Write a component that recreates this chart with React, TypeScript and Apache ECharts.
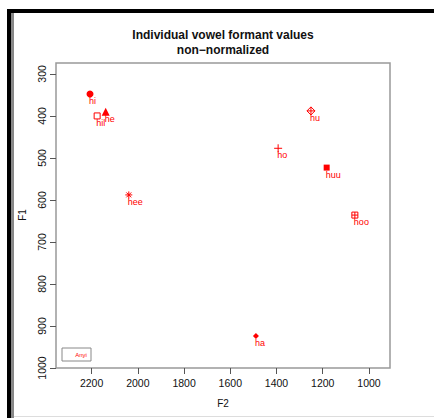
import React, { useEffect, useRef } from 'react';
import * as echarts from 'echarts';

const vowels = ['hi', 'hil', 'he', 'hee', 'hu', 'ho', 'huu', 'hoo', 'ha'];
const f2Values = [2207, 2176, 2139, 2039, 1251, 1393, 1183, 1061, 1489];
const f1Values = [348, 400, 390, 588, 388, 477, 523, 636, 924];
const xTicks = [1000, 1200, 1400, 1600, 1800, 2000, 2200];
const yTicks = [300, 400, 500, 600, 700, 800, 900, 1000];
const titleLines = ['Individual vowel formant values', 'non\u2212normalized'];
const xName = 'F2';
const yName = 'F1';
const legendLabel = 'Anyi';

const RED = '#ff0000';
const FONT = '"Liberation Sans", Arial, Helvetica, sans-serif';

// marker styles per vowel (R pch look-alikes)
const markerStyles: Record<string, { symbol: string; size: number; filled: boolean }> = {
  hi: { symbol: 'circle', size: 7, filled: true },
  hil: { symbol: 'rect', size: 6, filled: false },
  he: { symbol: 'triangle', size: 8, filled: true },
  hee: { symbol: 'path://M0,5L10,5M5,0L5,10M1.5,1.5L8.5,8.5M8.5,1.5L1.5,8.5', size: 7, filled: false },
  hu: { symbol: 'path://M5,0L10,5L5,10L0,5ZM0,5L10,5M5,0L5,10', size: 8, filled: false },
  ho: { symbol: 'path://M0,5L10,5M5,0L5,10', size: 8, filled: false },
  huu: { symbol: 'rect', size: 6, filled: true },
  hoo: { symbol: 'path://M0,0L10,0L10,10L0,10ZM0,5L10,5M5,0L5,10', size: 6, filled: false },
  ha: { symbol: 'diamond', size: 6, filled: true },
};

export default function App() {
  const ref = useRef<HTMLDivElement>(null);
  useEffect(() => {
    if (!ref.current) return;
    const chart = echarts.init(ref.current, undefined, { renderer: 'svg' });
    const data = vowels.map((v, i) => {
      const m = markerStyles[v];
      return {
        name: v,
        value: [f2Values[i], f1Values[i]],
        symbol: m.symbol,
        symbolSize: m.size,
        itemStyle: m.filled
          ? { color: RED, borderWidth: 0, opacity: 1 }
          : { color: 'rgba(0,0,0,0)', borderColor: RED, borderWidth: 1, opacity: 1 },
      };
    });
    const plain = (v: number) => String(v);
    chart.setOption({
      animation: false,
      backgroundColor: '#ffffff',
      grid: {
        left: 56,
        top: 63,
        right: 44,
        bottom: 50,
        show: true,
        borderColor: '#999999',
        borderWidth: 1.5,
        backgroundColor: 'transparent',
      },
      xAxis: {
        type: 'value',
        min: 909,
        max: 2354,
        inverse: true,
        axisLine: { show: false },
        splitLine: { show: false },
        axisTick: {
          show: true,
          inside: false,
          length: 6,
          lineStyle: { color: '#555' },
          customValues: xTicks,
        },
        axisLabel: {
          customValues: xTicks,
          formatter: plain,
          margin: 9,
          fontSize: 10.5,
          color: '#111',
          fontFamily: FONT,
        },
      },
      yAxis: {
        type: 'value',
        min: 274,
        max: 1000,
        inverse: true,
        axisLine: { show: false },
        splitLine: { show: false },
        axisTick: {
          show: true,
          inside: false,
          length: 6,
          lineStyle: { color: '#555' },
          customValues: yTicks,
        },
        axisLabel: {
          customValues: yTicks,
          formatter: plain,
          rotate: 90,
          margin: 9,
          fontSize: 10.5,
          color: '#111',
          fontFamily: FONT,
        },
      },
      series: [
        {
          type: 'scatter',
          data,
          label: {
            show: true,
            formatter: '{b}',
            position: 'inside',
            align: 'left',
            verticalAlign: 'middle',
            offset: [-1, 7],
            color: RED,
            fontSize: 9,
            fontFamily: FONT,
          },
          emphasis: { disabled: true },
        },
      ],
      graphic: [
        { type: 'rect', shape: { x: 7, y: 9, width: 427, height: 4 }, style: { fill: '#000' }, silent: true },
        { type: 'rect', shape: { x: 7, y: 9, width: 4, height: 409 }, style: { fill: '#000' }, silent: true },
        { type: 'rect', shape: { x: 11, y: 13, width: 3, height: 405 }, style: { fill: '#888' }, silent: true },
        { type: 'rect', shape: { x: 14, y: 416, width: 420, height: 1 }, style: { fill: '#dddddd' }, silent: true },
        {
          type: 'text',
          x: 223,
          y: 35,
          style: {
            text: titleLines[0],
            fill: '#111',
            font: `bold 12px ${FONT}`,
            textAlign: 'center',
            textVerticalAlign: 'middle',
          },
        },
        {
          type: 'text',
          x: 223,
          y: 50,
          style: {
            text: titleLines[1],
            fill: '#111',
            font: `bold 12px ${FONT}`,
            textAlign: 'center',
            textVerticalAlign: 'middle',
          },
        },
        {
          type: 'text',
          x: 223,
          y: 403,
          style: {
            text: xName,
            fill: '#111',
            font: `10px ${FONT}`,
            textAlign: 'center',
            textVerticalAlign: 'middle',
          },
        },
        {
          type: 'text',
          x: 22,
          y: 215,
          rotation: Math.PI / 2,
          style: {
            text: yName,
            fill: '#111',
            font: `10px ${FONT}`,
            textAlign: 'center',
            textVerticalAlign: 'middle',
          },
        },
        {
          type: 'rect',
          shape: { x: 62, y: 348, width: 29, height: 13 },
          style: { fill: '#fff', stroke: '#888', lineWidth: 1 },
        },
        {
          type: 'text',
          x: 81,
          y: 354.5,
          style: {
            text: legendLabel,
            fill: RED,
            font: `6px ${FONT}`,
            textAlign: 'center',
            textVerticalAlign: 'middle',
          },
        },
      ],
    });
    return () => chart.dispose();
  }, []);
  return (
    <div
      ref={ref}
      style={{ position: 'absolute', left: 0, top: 0, width: 434, height: 418 }}
    />
  );
}
